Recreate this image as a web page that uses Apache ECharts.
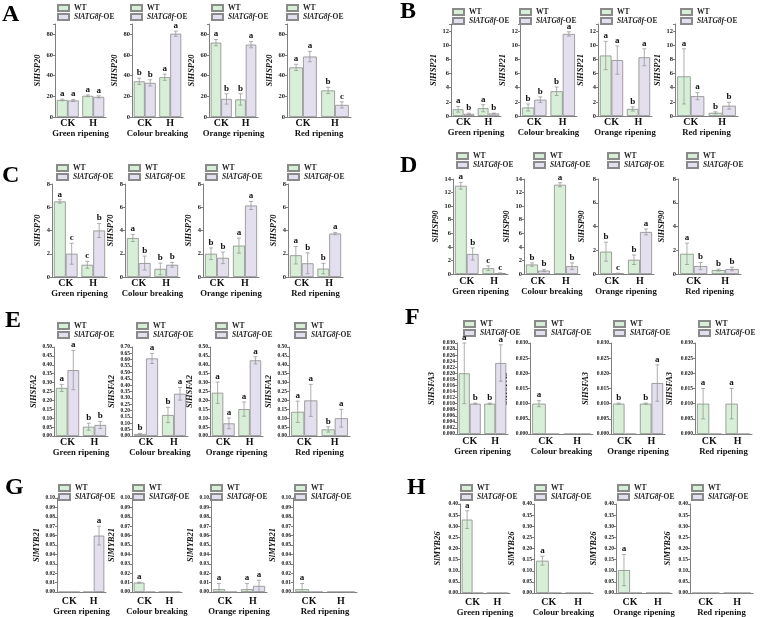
<!DOCTYPE html>
<html>
<head>
<meta charset="utf-8">
<script src="https://cdn.jsdelivr.net/npm/echarts@6/dist/echarts.min.js"></script>
<style>
html, body { margin: 0; padding: 0; background: #fff; }
#main { width: 761px; height: 617px; }
</style>
</head>
<body>
<div id="main"></div>
<script>
// categories
var stages = ['Green ripening', 'Colour breaking', 'Orange ripening', 'Red ripening'];
var treatments = ['CK', 'H'];
var genes = ['SlHSP20', 'SlHSP21', 'SlHSP70', 'SlHSP90', 'SlHSFA2', 'SlHSFA3', 'SlMYB21', 'SlMYB26'];
var panelTags = ['A', 'B', 'C', 'D', 'E', 'F', 'G', 'H'];
var seriesNames = ['WT', 'SlATG8f-OE'];

// values per stage: [CK, H]
var hsp20Wt = [[16.5, 20.5], [34.5, 38.5], [72, 17], [48, 25.7]];
var hsp20Oe = [[16, 19.5], [33, 80.6], [17.5, 70], [58.5, 11.7]];
var hsp20WtErr = [[0.8, 0.8], [3, 3], [3, 5.5], [3, 3]];
var hsp20OeErr = [[1, 1], [3, 2.5], [5, 3], [5, 3]];
var hsp20WtSig = [['a', 'a'], ['b', 'a'], ['a', 'b'], ['a', 'b']];
var hsp20OeSig = [['a', 'a'], ['b', 'a'], ['b', 'a'], ['a', 'c']];

var hsp21Wt = [[0.95, 1.1], [1.2, 3.5], [8.55, 1.0], [5.6, 0.45]];
var hsp21Oe = [[0.3, 0.35], [2.3, 11.6], [7.9, 8.3], [2.8, 1.45]];
var hsp21WtErr = [[0.4, 0.5], [0.5, 0.6], [2.0, 0.3], [3.9, 0.15]];
var hsp21OeErr = [[0.1, 0.05], [0.4, 0.3], [2.0, 1.2], [0.5, 0.5]];
var hsp21WtSig = [['a', 'a'], ['b', 'b'], ['a', 'b'], ['a', 'b']];
var hsp21OeSig = [['b', 'b'], ['b', 'a'], ['a', 'a'], ['a', 'b']];

var hsp70Wt = [[6.5, 1.05], [3.35, 0.7], [2.0, 2.7], [1.87, 0.72]];
var hsp70Oe = [[2.0, 4.0], [1.2, 1.05], [1.65, 6.15], [1.18, 3.74]];
var hsp70WtErr = [[0.15, 0.3], [0.3, 0.5], [0.5, 0.65], [0.75, 0.45]];
var hsp70OeErr = [[0.9, 0.6], [0.6, 0.2], [0.5, 0.35], [0.9, 0.1]];
var hsp70WtSig = [['a', 'c'], ['a', 'b'], ['b', 'a'], ['a', 'b']];
var hsp70OeSig = [['c', 'b'], ['b', 'b'], ['b', 'a'], ['b', 'a']];

var hsp90Wt = [[13.0, 0.85], [1.4, 13.15], [1.88, 1.2], [1.7, 0.33]];
var hsp90Oe = [[2.95, 0.12], [0.5, 1.15], [0.05, 3.54], [0.67, 0.42]];
var hsp90WtErr = [[0.5, 0.35], [0.25, 0.3], [0.8, 0.4], [0.9, 0.08]];
var hsp90OeErr = [[0.9, 0.05], [0.15, 0.5], [0.02, 0.25], [0.3, 0.15]];
var hsp90WtSig = [['a', 'c'], ['b', 'a'], ['b', 'b'], ['a', 'b']];
var hsp90OeSig = [['b', 'c'], ['b', 'b'], ['c', 'a'], ['b', 'b']];

var hsfa2Wt = [[0.27, 0.052], [0.016, 0.165], [0.243, 0.151], [0.136, 0.037]];
var hsfa2Oe = [[0.37, 0.062], [0.61, 0.332], [0.071, 0.425], [0.2, 0.1]];
var hsfa2WtErr = [[0.02, 0.02], [0.005, 0.06], [0.06, 0.04], [0.06, 0.015]];
var hsfa2OeErr = [[0.11, 0.02], [0.04, 0.05], [0.03, 0.02], [0.09, 0.05]];
var hsfa2WtSig = [['a', 'b'], ['b', 'b'], ['a', 'a'], ['a', 'b']];
var hsfa2OeSig = [['a', 'b'], ['a', 'a'], ['a', 'a'], ['a', 'a']];

var hsfa3Wt = [[0.020, 0.010], [0.010, 0], [0.010, 0.010], [0.010, 0.010]];
var hsfa3Oe = [[0.010, 0.0234], [0, 0], [0, 0.0168], [0, 0]];
var hsfa3WtErr = [[0.010, 0.0002], [0.001, 0], [0.0002, 0.0002], [0.005, 0.005]];
var hsfa3OeErr = [[0.0002, 0.006], [0, 0], [0, 0.006], [0, 0]];
var hsfa3WtSig = [['a', 'b'], ['a', ''], ['b', 'b'], ['a', 'a']];
var hsfa3OeSig = [['b', 'a'], ['', ''], ['', 'a'], ['', '']];

var myb21Wt = [[0, 0], [0.01, 0], [0.003, 0.003], [0.003, 0]];
var myb21Oe = [[0, 0.06], [0, 0], [0, 0.0065], [0, 0]];
var myb21WtErr = [[0, 0], [0.0005, 0], [0.006, 0.006], [0.006, 0]];
var myb21OeErr = [[0, 0.01], [0, 0], [0, 0.006], [0, 0]];
var myb21WtSig = [['', ''], ['a', ''], ['a', 'a'], ['a', '']];
var myb21OeSig = [['', 'a'], ['', ''], ['', 'a'], ['', '']];

var myb26Wt = [[0.33, 0], [0.145, 0], [0.103, 0], [0, 0]];
var myb26Oe = [[0, 0], [0, 0], [0, 0], [0, 0]];
var myb26WtErr = [[0.04, 0], [0.02, 0], [0.07, 0], [0, 0]];
var myb26OeErr = [[0, 0], [0, 0], [0, 0], [0, 0]];
var myb26WtSig = [['a', ''], ['a', ''], ['a', ''], ['', '']];
var myb26OeSig = [['', ''], ['', ''], ['', ''], ['', '']];

// y axis ticks
var yMax = [[90, 90, 90, 90], [13, 13, 13, 13], [8, 8, 8, 8], [14, 14, 8, 8],
            [0.5, 0.7, 0.5, 0.5], [0.03, 0.03, 0.03, 0.03], [0.1, 0.1, 0.1, 0.1], [0.4, 0.4, 0.4, 0.4]];
var yStep = [[20, 20, 20, 20], [2, 2, 2, 2], [2, 2, 2, 2], [2, 2, 2, 2],
             [0.05, 0.05, 0.05, 0.05], [0.002, 0.005, 0.005, 0.005], [0.01, 0.01, 0.01, 0.01], [0.05, 0.05, 0.05, 0.05]];
var yDecimals = [0, 0, 0, 0, 2, 3, 2, 2];

var geneData = [
  [hsp20Wt, hsp20Oe, hsp20WtErr, hsp20OeErr, hsp20WtSig, hsp20OeSig],
  [hsp21Wt, hsp21Oe, hsp21WtErr, hsp21OeErr, hsp21WtSig, hsp21OeSig],
  [hsp70Wt, hsp70Oe, hsp70WtErr, hsp70OeErr, hsp70WtSig, hsp70OeSig],
  [hsp90Wt, hsp90Oe, hsp90WtErr, hsp90OeErr, hsp90WtSig, hsp90OeSig],
  [hsfa2Wt, hsfa2Oe, hsfa2WtErr, hsfa2OeErr, hsfa2WtSig, hsfa2OeSig],
  [hsfa3Wt, hsfa3Oe, hsfa3WtErr, hsfa3OeErr, hsfa3WtSig, hsfa3OeSig],
  [myb21Wt, myb21Oe, myb21WtErr, myb21OeErr, myb21WtSig, myb21OeSig],
  [myb26Wt, myb26Oe, myb26WtErr, myb26OeErr, myb26WtSig, myb26OeSig]
];

// layout (px)
var gridLeft = [[55, 132, 209, 287], [451, 520, 598, 675], [52, 125, 203, 288], [453, 524, 598, 678],
                [54, 132, 210, 289], [457, 530, 611, 695], [57, 132, 211, 293], [460, 534, 616, 690]];
var gridRight = [[106, 183, 258, 351], [501, 577, 652, 738], [107, 180, 259, 343], [508, 580, 654, 741],
                 [108, 188, 263, 350], [508, 593, 665, 752], [106, 182, 267, 357], [510, 593, 672, 753]];
var gridTop = [24, 24, 184, 179, 347, 343, 498, 504];
var gridBottom = [117, 116, 277, 274, 436, 434, 592, 593];
var legendTop = [4, 8, 164, 152, 322, 320, 484, 484];
var legendLeft = [[57, 130, 211, 286], [452, 519, 600, 680], [56, 128, 205, 287], [456, 533, 607, 686],
                  [57, 136, 215, 294], [463, 534, 613, 698], [58, 132, 210, 294], [460, 534, 617, 691]];
var yNameGap = [10, 11, 10, 12, 14, 21, 15, 18];
var xNameGap = [8, 7, 6, 8, 9, 8, 15, 10];
var xLabelMargin = [1, 1, 1, 2, 1, 2, 4, 4];
var tagPos = [[2, 3], [400, 0], [2, 164], [400, 154], [5, 309], [405, 306], [5, 476], [407, 476]];

var FONT = '"Liberation Serif", "Times New Roman", serif';
var AXIS_GRAY = '#7f7f7f';
var BAR_COLORS = ['#d6efd6', '#e3dfee'];

var chart = echarts.init(document.getElementById('main'));

var grids = [], xAxes = [], yAxes = [], series = [], legends = [], graphics = [];

function makeErrRender(letters) {
  return function (params, api) {
    var cat = api.value(0), v = api.value(1), e = api.value(2), which = api.value(3);
    var letter = letters[params.dataIndex];
    if (!v && !letter) return null;
    var band = api.size([1, 0])[0];
    var bw = band * 0.86 / 2;
    var cx = api.coord([cat, v])[0] + (which ? 1 : -1) * bw / 2;
    var yTop = api.coord([cat, v + e])[1];
    var yBot = api.coord([cat, Math.max(0, v - e)])[1];
    var st = { stroke: '#9a9a9a', lineWidth: 0.8 };
    var kids = [];
    if (e > 0) {
      kids.push({ type: 'line', shape: { x1: cx, y1: yTop, x2: cx, y2: yBot }, style: st });
      kids.push({ type: 'line', shape: { x1: cx - 2, y1: yTop, x2: cx + 2, y2: yTop }, style: st });
      kids.push({ type: 'line', shape: { x1: cx - 2, y1: yBot, x2: cx + 2, y2: yBot }, style: st });
    }
    if (letter) {
      kids.push({
        type: 'text', x: cx, y: yTop - 1,
        style: { text: letter, fill: '#111', font: 'bold 9px ' + FONT,
                 textAlign: 'center', textVerticalAlign: 'bottom', align: 'center', verticalAlign: 'bottom' }
      });
    }
    return { type: 'group', children: kids };
  };
}

for (var p = 0; p < 8; p++) {
  graphics.push({
    type: 'text', left: tagPos[p][0], top: tagPos[p][1],
    style: { text: panelTags[p], font: 'bold 24px ' + FONT, fill: '#000' }
  });
  for (var s = 0; s < 4; s++) {
    var k = p * 4 + s;
    var d = geneData[p];
    grids.push({
      left: gridLeft[p][s], top: gridTop[p], width: gridRight[p][s] - gridLeft[p][s],
      height: gridBottom[p] - gridTop[p], containLabel: false, outerBoundsMode: 'none'
    });
    xAxes.push({
      gridIndex: k, type: 'category', data: treatments,
      axisTick: { show: false },
      axisLine: { lineStyle: { color: AXIS_GRAY, width: 1 } },
      axisLabel: { margin: xLabelMargin[p], fontFamily: FONT, fontWeight: 'bold', fontSize: 10, color: '#111' },
      name: stages[s], nameLocation: 'middle', nameGap: xNameGap[p],
      nameTextStyle: { fontFamily: FONT, fontWeight: 'bold', fontSize: 8.7, color: '#111' }
    });
    (function (step, dec) {
      yAxes.push({
        gridIndex: k, type: 'value', min: 0, max: yMax[p][s], interval: step,
        axisLine: { show: true, lineStyle: { color: AXIS_GRAY, width: 1 } },
        axisTick: { show: true, length: 2, lineStyle: { color: AXIS_GRAY } },
        splitLine: { show: false },
        axisLabel: {
          margin: 2, fontFamily: FONT, fontWeight: 'bold', fontSize: dec ? 5.5 : 6.5, color: '#222',
          formatter: function (v) {
            var r = v / step;
            if (Math.abs(r - Math.round(r)) > 1e-6) return '';
            return v.toFixed(dec);
          }
        },
        name: genes[p], nameLocation: 'middle', nameGap: yNameGap[p],
        nameTextStyle: { fontFamily: FONT, fontWeight: 'bold', fontStyle: 'italic', fontSize: 8.5, color: '#111' }
      });
    })(yStep[p][s], yDecimals[p]);

    for (var w = 0; w < 2; w++) {
      series.push({
        type: 'bar', name: seriesNames[w], xAxisIndex: k, yAxisIndex: k,
        data: d[w][s], barGap: '0%', barCategoryGap: '14%', silent: true,
        itemStyle: { color: BAR_COLORS[w], borderColor: '#8a8a8a', borderWidth: 0.8 }
      });
    }
    var errData = [], letters = [];
    for (var t = 0; t < 2; t++) {
      for (var w2 = 0; w2 < 2; w2++) {
        errData.push([t, d[w2][s][t], d[w2 + 2][s][t], w2]);
        letters.push(d[w2 + 4][s][t]);
      }
    }
    series.push({
      type: 'custom', xAxisIndex: k, yAxisIndex: k, silent: true, z: 5,
      renderItem: makeErrRender(letters), data: errData
    });

    legends.push({
      orient: 'vertical', left: legendLeft[p][s], top: legendTop[p], padding: 0,
      icon: 'rect', itemWidth: 11, itemHeight: 6, itemGap: 1, selectedMode: false,
      data: seriesNames,
      formatter: function (n) { return n === 'WT' ? 'WT' : '{i|SlATG8f}-OE'; },
      textStyle: {
        fontFamily: FONT, fontWeight: 'bold', fontSize: 7.5, color: '#222', lineHeight: 8,
        rich: { i: { fontFamily: FONT, fontWeight: 'bold', fontStyle: 'italic', fontSize: 7.5, color: '#222' } }
      }
    });
  }
}

chart.setOption({
  backgroundColor: '#fff',
  animation: false,
  grid: grids,
  xAxis: xAxes,
  yAxis: yAxes,
  legend: legends,
  graphic: graphics,
  series: series
});
</script>
</body>
</html>
